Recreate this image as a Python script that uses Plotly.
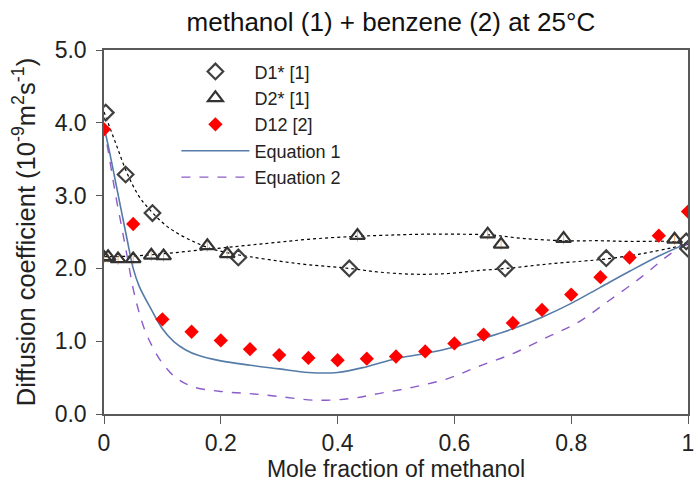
import plotly.graph_objects as go

# ---- data ----
d1_x = [0.003, 0.037, 0.083, 0.23, 0.42, 0.687, 0.86, 0.997, 1.0]
d1_y = [4.14, 3.29, 2.76, 2.15, 2.00, 2.00, 2.14, 2.37, 2.27]

d2_x = [0.0, 0.007, 0.024, 0.05, 0.081, 0.102, 0.177, 0.211, 0.434, 0.657, 0.68, 0.787, 0.977]
d2_y = [2.15, 2.16, 2.13, 2.13, 2.18, 2.17, 2.31, 2.20, 2.45, 2.47, 2.33, 2.41, 2.40]
d2_err = [0.08] * len(d2_x)

d12_x = [0.0, 0.05, 0.1, 0.15, 0.2, 0.25, 0.3, 0.35, 0.4, 0.45, 0.5,
         0.55, 0.6, 0.65, 0.7, 0.75, 0.8, 0.85, 0.9, 0.95, 1.0]
d12_y = [3.91, 2.61, 1.30, 1.13, 1.01, 0.89, 0.81, 0.77, 0.74, 0.76, 0.79,
         0.86, 0.97, 1.09, 1.25, 1.43, 1.64, 1.88, 2.15, 2.45, 2.78]

eq1_x = [0.0, 0.01, 0.02, 0.03, 0.04, 0.05, 0.06, 0.08, 0.1, 0.12, 0.14, 0.16, 0.2,
         0.25, 0.3, 0.35, 0.4, 0.45, 0.5, 0.55, 0.6, 0.65, 0.7, 0.75, 0.8, 0.85,
         0.9, 0.95, 1.0]
eq1_y = [3.95, 3.58, 3.18, 2.78, 2.38, 2.0, 1.76, 1.45, 1.17, 0.99, 0.88, 0.81, 0.73,
         0.67, 0.62, 0.57, 0.57, 0.65, 0.76, 0.83, 0.92, 1.04, 1.17, 1.33, 1.52, 1.74,
         1.96, 2.17, 2.35]

eq2_x = [0.0, 0.01, 0.02, 0.03, 0.04, 0.05, 0.06, 0.07, 0.08, 0.09, 0.1, 0.12, 0.15,
         0.2, 0.25, 0.3, 0.36, 0.42, 0.47, 0.53, 0.59, 0.64, 0.7, 0.76, 0.81, 0.86,
         0.92, 0.97, 1.0]
eq2_y = [3.95, 3.48, 3.0, 2.58, 2.15, 1.72, 1.40, 1.15, 0.97, 0.82, 0.70, 0.52, 0.38,
         0.31, 0.28, 0.24, 0.19, 0.21, 0.28, 0.37, 0.49, 0.65, 0.83, 1.06, 1.25, 1.53,
         1.88, 2.20, 2.34]

d1fit_x = [0.0, 0.02, 0.04, 0.06, 0.08, 0.1, 0.12, 0.15, 0.18, 0.22, 0.25, 0.3, 0.35,
           0.42, 0.47, 0.53, 0.59, 0.64, 0.69, 0.76, 0.82, 0.86, 0.92, 0.97, 1.0]
d1fit_y = [4.15, 3.72, 3.30, 2.99, 2.79, 2.63, 2.51, 2.38, 2.28, 2.20, 2.16, 2.10, 2.05,
           2.00, 1.95, 1.92, 1.93, 1.97, 2.00, 2.06, 2.10, 2.13, 2.20, 2.28, 2.33]

d2fit_x = [0.0, 0.05, 0.1, 0.15, 0.2, 0.25, 0.3, 0.35, 0.43, 0.5, 0.55, 0.6, 0.66,
           0.72, 0.79, 0.85, 0.9, 0.97, 1.0]
d2fit_y = [2.16, 2.17, 2.20, 2.24, 2.28, 2.32, 2.36, 2.40, 2.44, 2.46, 2.47, 2.47, 2.46,
           2.41, 2.38, 2.38, 2.37, 2.37, 2.34]

x_tickvals = [0, 0.2, 0.4, 0.6, 0.8, 1]
x_ticktext = ["0", "0.2", "0.4", "0.6", "0.8", "1"]
y_tickvals = [0, 1, 2, 3, 4, 5]

FONT = "Liberation Sans, Arial, sans-serif"
AX = "#595959"
TXT = "#222222"

fig = go.Figure()

fig.add_trace(go.Scatter(x=d1fit_x, y=d1fit_y, mode="lines", line=dict(color="black", width=1.2, dash="dot", shape="spline"),
                         showlegend=False, hoverinfo="skip"))
fig.add_trace(go.Scatter(x=d2fit_x, y=d2fit_y, mode="lines", line=dict(color="black", width=1.2, dash="dot", shape="spline"),
                         showlegend=False, hoverinfo="skip"))
fig.add_trace(go.Scatter(x=eq1_x, y=eq1_y, mode="lines", name="Equation 1",
                         line=dict(color="#557ba8", width=1.6, shape="spline"), legendrank=4))
fig.add_trace(go.Scatter(x=eq2_x, y=eq2_y, mode="lines", name="Equation 2",
                         line=dict(color="#8a5cc8", width=1.4, dash="dash", shape="spline"), legendrank=5))
fig.add_trace(go.Scatter(x=d1_x, y=d1_y, mode="markers", name="D1* [1]",
                         marker=dict(symbol="diamond-open", size=12, color="#404040", line=dict(width=2.2)),
                         legendrank=1))
fig.add_trace(go.Scatter(x=d2_x, y=d2_y, mode="markers", name="D2* [1]",
                         error_y=dict(type="data", array=d2_err, color="#f4b27a", thickness=1, width=0),
                         marker=dict(symbol="triangle-up-open", size=13, color="#333333", line=dict(width=2.2)),
                         legendrank=2))
fig.add_trace(go.Scatter(x=d12_x, y=d12_y, mode="markers", name="D12 [2]",
                         marker=dict(symbol="diamond", size=11, color="#ff0000"), legendrank=3))

fig.update_layout(
    width=698, height=491,
    margin=dict(l=104, r=4, t=50, b=77),
    plot_bgcolor="white", paper_bgcolor="white",
    font=dict(family=FONT, color=TXT, size=19),
    title=dict(text="methanol (1) + benzene (2) at 25°C", x=0.56, xanchor="center",
               y=0.955, yanchor="middle", font=dict(size=26, family=FONT, color="#111111")),
    legend=dict(x=0.124, y=0.991, xanchor="left", yanchor="top", bgcolor="rgba(0,0,0,0)",
                font=dict(size=18, family=FONT, color=TXT), itemwidth=68,
                tracegroupgap=0, traceorder="normal"),
    xaxis=dict(range=[0, 1], tickvals=x_tickvals, ticktext=x_ticktext,
               showgrid=False, zeroline=False, showline=True, linecolor=AX, linewidth=1.5,
               mirror=True, ticks="outside", ticklen=8, tickcolor=AX, tickwidth=1.2,
               ticklabeloverflow="allow",
               tickfont=dict(size=23, family=FONT, color=TXT),
               title=dict(text="Mole fraction of methanol", font=dict(size=23, family=FONT, color=TXT), standoff=5)),
    yaxis=dict(range=[0, 5], tickvals=y_tickvals, tickformat=".1f",
               showgrid=False, zeroline=False, showline=True, linecolor=AX, linewidth=1.5,
               mirror=True, ticks="outside", ticklen=6, tickcolor=AX, tickwidth=1.2,
               ticklabelstandoff=5,
               tickfont=dict(size=23, family=FONT, color=TXT),
               title=dict(text="Diffusion coefficient (10<sup>-9</sup>m<sup>2</sup>s<sup>-1</sup>)",
                          font=dict(size=25.5, family=FONT, color=TXT), standoff=12)),
)

fig.write_html("out.html", config={"displayModeBar": False},
               post_script="document.body.style.margin='0';document.body.style.padding='0';")
